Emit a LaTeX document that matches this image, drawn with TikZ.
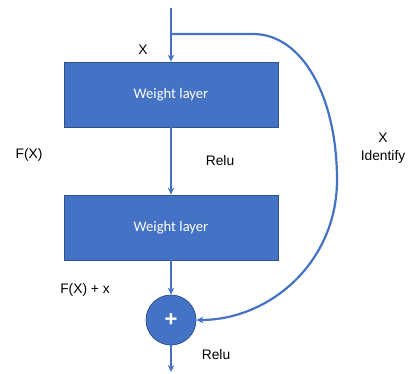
\documentclass[tikz,border=0pt]{standalone}
\usepackage{fontspec}
\setmainfont{Liberation Sans}
\newfontfamily\calib{Carlito}
\usetikzlibrary{arrows.meta}
\definecolor{obox}{HTML}{4472C4}
\definecolor{oedge}{HTML}{2F528F}
\definecolor{oline}{HTML}{4472C4}
\begin{document}
\begin{tikzpicture}[x=1pt,y=-1pt,
  wbox/.style={draw=oedge,line width=0.8pt,fill=obox,minimum width=214pt,minimum height=65pt,inner sep=0pt,text=white,font=\calib\fontsize{14.6}{16}\selectfont},
  addc/.style={circle,draw=oedge,line width=0.8pt,fill=obox,minimum size=50pt,inner sep=0pt,text=white,font=\fontsize{22}{24}\selectfont\bfseries},
  conn/.style={draw=oline,line width=2.2pt,-{Stealth[length=7pt,width=6.5pt]}},
  lbl/.style={font=\fontsize{13.8}{15}\selectfont,text=black,inner sep=0pt}]
\useasboundingbox (0,0) rectangle (411,373);
\coordinate (top) at (171,8);
\coordinate (branch) at (171,34);
\coordinate (out) at (171,372);
\node[wbox] (w1) at (171,94.5) {Weight layer};
\node[wbox] (w2) at (171,227.5) {Weight layer};
\node[addc] (add) at (171,320) {+};
\draw[conn] (top) -- (w1.north);
\draw[conn] (w1.south) -- (w2.north);
\draw[conn] (w2.south) -- (add.north);
\draw[conn] (add.south) -- (out);
\draw[conn] (branch) -- (253,34) .. controls (303,34) and (337,98) .. (337,180) .. controls (337,262) and (270,320) .. (add.east);
\node[lbl] (lx) at (143,50) {X};
\node[lbl] (lfx) at (29,155) {F(X)};
\node[lbl] (lrelu1) at (220,161) {Relu};
\node[lbl] (lx2) at (383,138) {X};
\node[lbl] (lid) at (383,157) {Identify};
\node[lbl] (lsum) at (85,290) {F(X) + x};
\node[lbl] (lrelu2) at (216,355) {Relu};
\end{tikzpicture}
\end{document}
